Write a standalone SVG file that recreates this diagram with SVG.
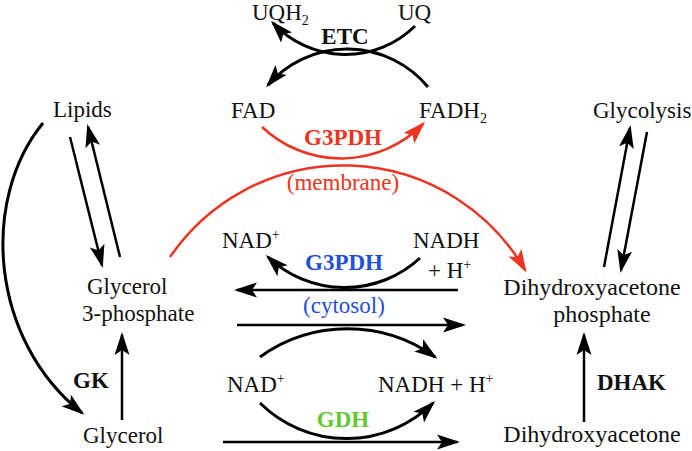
<svg xmlns="http://www.w3.org/2000/svg" width="692" height="451" viewBox="0 0 692 451" font-family="'Liberation Serif', 'DejaVu Serif', serif">
<style>
text{font-family:'Liberation Serif','DejaVu Serif',serif;font-size:23px;fill:#111}
.b{font-weight:bold}
.red{fill:#ee3322}
.blue{fill:#1f4fdc}
.green{fill:#62c832}
.sup{font-size:14px}
.big{font-size:24px}
.k{fill:none;stroke:#000;stroke-width:3}
.h{fill:none;stroke:#000;stroke-width:2.5}
.r{fill:none;stroke:#ee3322;stroke-width:2.5}
</style>
<defs>
<marker id="ah" viewBox="0 0 23 16" refX="20" refY="8" markerWidth="23" markerHeight="16" markerUnits="userSpaceOnUse" orient="auto">
<path d="M0,0.5 L23,8 L0,15.5 L5,8 Z" fill="#000"/>
</marker>
<marker id="ahr" viewBox="0 0 23 16" refX="20" refY="8" markerWidth="23" markerHeight="16" markerUnits="userSpaceOnUse" orient="auto">
<path d="M0,0.5 L23,8 L0,15.5 L5,8 Z" fill="#ee3322"/>
</marker>
</defs>

<g id="connectors">
<path class="k" d="M415,26 A99,99 0 0 1 273,23" marker-end="url(#ah)"/>
<path class="k" d="M428,87 A105,105 0 0 0 268,85" marker-end="url(#ah)"/>
<path class="r" d="M262,127 A115,115 0 0 0 423,124" marker-end="url(#ahr)"/>
<path class="r" d="M170,257 A210,210 0 0 1 525,270" marker-end="url(#ahr)"/>
<path class="k" d="M43,123 C-20,200 -10,340 82,413" marker-end="url(#ah)"/>
<path class="h" d="M70,137 L102,265" marker-end="url(#ah)"/>
<path class="h" d="M120,257 L88,127" marker-end="url(#ah)"/>
<path class="h" d="M122,420 L122,335" marker-end="url(#ah)"/>
<path class="h" d="M584,422 L584,335" marker-end="url(#ah)"/>
<path class="h" d="M604,267 L630,128" marker-end="url(#ah)"/>
<path class="h" d="M647,132 L621,270" marker-end="url(#ah)"/>
<path class="k" d="M420,258 A111,111 0 0 1 268,257" marker-end="url(#ah)"/>
<path class="h" d="M458,290 L237,290" marker-end="url(#ah)"/>
<path class="h" d="M237,325 L463,325" marker-end="url(#ah)"/>
<path class="k" d="M260,357 A150,150 0 0 1 435,357" marker-end="url(#ah)"/>
<path class="k" d="M260,403 A123,123 0 0 0 433,403" marker-end="url(#ah)"/>
<path class="h" d="M223,442 L457,442" marker-end="url(#ah)"/>
</g>

<g id="uqh2"><text x="252" y="20">UQH<tspan class="sup" dy="5">2</tspan></text></g>
<g id="uq"><text x="398" y="20">UQ</text></g>
<g id="etc"><text class="b" x="345" y="44" text-anchor="middle">ETC</text></g>
<g id="fad"><text x="231" y="118">FAD</text></g>
<g id="fadh2"><text x="419" y="118">FADH<tspan class="sup" dy="5">2</tspan></text></g>
<g id="lipids"><text x="53" y="117">Lipids</text></g>
<g id="glycolysis"><text x="593" y="118">Glycolysis</text></g>
<g id="g3pdh-membrane">
<text class="b red" x="343" y="145" text-anchor="middle">G3PDH</text>
<text class="red" x="343" y="190" text-anchor="middle">(membrane)</text>
</g>
<g id="nad-top"><text x="222" y="248">NAD<tspan class="sup" dy="-9">+</tspan></text></g>
<g id="nadh-top"><text x="413" y="248">NADH</text><text x="428" y="278">+ H<tspan class="sup" dy="-9">+</tspan></text></g>
<g id="g3pdh-cytosol">
<text class="b blue" x="344" y="270" text-anchor="middle">G3PDH</text>
<text class="blue" x="344" y="313" text-anchor="middle">(cytosol)</text>
</g>
<g id="g3p"><text x="87" y="294">Glycerol</text><text x="82" y="321">3-phosphate</text></g>
<g id="dhap"><text class="big" x="592" y="295" text-anchor="middle">Dihydroxyacetone</text><text class="big" x="602" y="322" text-anchor="middle">phosphate</text></g>
<g id="gk"><text class="b" x="73" y="388">GK</text></g>
<g id="dhak"><text class="b" x="597" y="390">DHAK</text></g>
<g id="glycerol"><text x="83" y="443">Glycerol</text></g>
<g id="dha"><text class="big" x="592" y="442" text-anchor="middle">Dihydroxyacetone</text></g>
<g id="nad-bottom"><text x="227" y="392">NAD<tspan class="sup" dy="-9">+</tspan></text></g>
<g id="nadh-bottom"><text x="378" y="392">NADH + H<tspan class="sup" dy="-9">+</tspan></text></g>
<g id="gdh"><text class="b green" x="343" y="427" text-anchor="middle">GDH</text></g>
</svg>
